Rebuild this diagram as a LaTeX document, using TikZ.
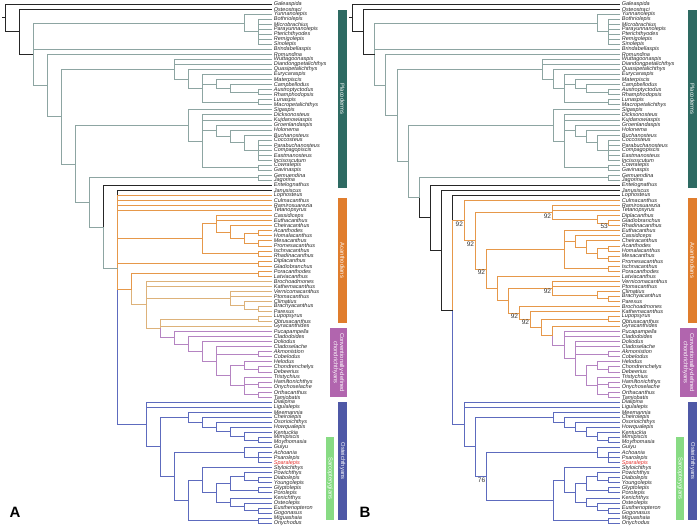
\documentclass[tikz,border=0pt]{standalone}
\usepackage{fontspec}
\setmainfont{Liberation Sans}
\usetikzlibrary{positioning,calc}

\definecolor{outgrp}{HTML}{262626}
\definecolor{placo}{HTML}{8DA5A2}
\definecolor{acan}{HTML}{E6984A}
\definecolor{acanlt}{HTML}{DDB27A}
\definecolor{chond}{HTML}{B584C2}
\definecolor{osteo}{HTML}{5D6BBE}
\definecolor{barplaco}{HTML}{2E6A62}
\definecolor{baracan}{HTML}{E07D2D}
\definecolor{barchond}{HTML}{B165AE}
\definecolor{barosteo}{HTML}{4E58A6}
\definecolor{barsarc}{HTML}{88DB84}
\definecolor{newtaxon}{HTML}{E5322D}

% internal node of the tree: name, x, first child, last child
\newcommand{\clade}[4]{%
  \path let \p1=($(#3)!.5!(#4)$) in coordinate (#1) at (#2pt,\y1);}
% internal node at a given height: name, x, y
\newcommand{\cladeat}[3]{\coordinate (#1) at (#2,#3);}
% branches from a node to its children
\newcommand{\kids}[3]{\foreach \c in {#3} \draw[#1] (#2) |- (\c);}

\newcommand{\taxaA}{Galeaspida,Osteostraci,Yunnanolepis,Bothriolepis,Microbrachius,Parayunnanolepis,Pterichthyodes,Remigolepis,Sinolepis,Brindabellaspis,Romundina,Wuttagoonaspis,Diandongpetalichthys,Quasipetalichthys,Eurycaraspis,Materpiscis,Campbellodus,Austroptyctodus,Rhamphodopsis,Lunaspis,Macropetalichthys,Sigaspis,Dicksonosteus,Kujdanowiaspis,Groenlandaspis,Holonema,Buchanosteus,Coccosteus,Parabuchanosteus,Compagopiscis,Eastmanosteus,Incisoscutum,Cowralepis,Gavinaspis,Gemuendina,Jagorina,Entelognathus,Janusiscus,Lophosteus,Culmacanthus,Ramirosuarezia,Tetanopsyrus,Cassidiceps,Euthacanthus,Cheiracanthus,Acanthodes,Homalacanthus,Mesacanthus,Promesacanthus,Ischnacanthus,Rhadinacanthus,Diplacanthus,Gladiobranchus,Poracanthodes,Latviacanthus,Brochoadmones,Kathemacanthus,Vernicomacanthus,Ptomacanthus,Climatius,Brachyacanthus,Parexus,Lupopsyrus,Obtusacanthus,Gyracanthides,Pucapampella,Cladodoides,Doliodus,Cladoselache,Akmonistion,Cobelodus,Helodus,Chondrenchelys,Debeerius,Tristychius,Hamiltonichthys,Onychoselache,Orthacanthus,Tamiobatis,Dialipina,Ligulalepis,Meemannia,Cheirolepis,Osorioichthys,Howqualepis,Kentuckia,Mimipiscis,Moythomasia,Guiyu,Achoania,Psarolepis,\textcolor{newtaxon}{Sparalepis},Styloichthys,Powichthys,Diabolepis,Youngolepis,Glyptolepis,Porolepis,Kenichthys,Osteolepis,Eusthenopteron,Gogonasus,Miguashaia,Onychodus}
\newcommand{\taxaB}{Galeaspida,Osteostraci,Yunnanolepis,Bothriolepis,Microbrachius,Parayunnanolepis,Pterichthyodes,Remigolepis,Sinolepis,Brindabellaspis,Romundina,Wuttagoonaspis,Diandongpetalichthys,Quasipetalichthys,Eurycaraspis,Materpiscis,Campbellodus,Austroptyctodus,Rhamphodopsis,Lunaspis,Macropetalichthys,Sigaspis,Dicksonosteus,Kujdanowiaspis,Groenlandaspis,Holonema,Buchanosteus,Coccosteus,Parabuchanosteus,Compagopiscis,Eastmanosteus,Incisoscutum,Cowralepis,Gavinaspis,Gemuendina,Jagorina,Entelognathus,Janusiscus,Lophosteus,Culmacanthus,Ramirosuarezia,Tetanopsyrus,Diplacanthus,Gladiobranchus,Rhadinacanthus,Euthacanthus,Cassidiceps,Cheiracanthus,Acanthodes,Homalacanthus,Mesacanthus,Promesacanthus,Ischnacanthus,Poracanthodes,Latviacanthus,Vernicomacanthus,Ptomacanthus,Climatius,Brachyacanthus,Parexus,Brochoadmones,Kathemacanthus,Lupopsyrus,Obtusacanthus,Gyracanthides,Pucapampella,Cladodoides,Doliodus,Cladoselache,Akmonistion,Cobelodus,Helodus,Chondrenchelys,Debeerius,Tristychius,Hamiltonichthys,Onychoselache,Orthacanthus,Tamiobatis,Dialipina,Ligulalepis,Meemannia,Cheirolepis,Osorioichthys,Howqualepis,Kentuckia,Mimipiscis,Moythomasia,Guiyu,Achoania,Psarolepis,\textcolor{newtaxon}{Sparalepis},Styloichthys,Powichthys,Diabolepis,Youngolepis,Glyptolepis,Porolepis,Kenichthys,Osteolepis,Eusthenopteron,Gogonasus,Miguashaia,Onychodus}

\begin{document}
\begin{tikzpicture}[x=1pt,y=-1pt,line width=.8pt,
  taxon/.style={anchor=west,inner xsep=1.5pt,inner ysep=0pt,text=black!85,
    font=\fontsize{5.5}{5.5}\selectfont\itshape},
  og/.style={outgrp},pl/.style={placo},ac/.style={acan},al/.style={acanlt},
  ch/.style={chond},os/.style={osteo},
  bar/.style={rotate=-90,text=white,inner sep=0pt,align=center,
    font=\fontsize{5.8}{6.2}\selectfont},
  support/.style={anchor=north east,font=\fontsize{6.5}{6.5}\selectfont,
    text=black!80,inner sep=.6pt},
  panel/.style={font=\fontsize{15}{15}\selectfont\bfseries}]

\useasboundingbox (0,0) rectangle (700,528);

% ---------------- A: leaves
\foreach \t [count=\i] in \taxaA
  \node[taxon] (a\i) at (272,{4+(\i-1)*5.04}) {\t};

% placoderms
\clade{aBo}{258}{a4}{a9}       \kids{pl}{aBo}{a4,a5,a6,a7,a8,a9}
\clade{aAn}{244}{a3}{aBo}      \kids{pl}{aAn}{a3,aBo}
\clade{aAR}{258}{a18}{a19}     \kids{pl}{aAR}{a18,a19}
\clade{aCa}{230}{a17}{aAR}     \kids{pl}{aCa}{a17,aAR}
\clade{aPt}{216}{a16}{aCa}     \kids{pl}{aPt}{a16,aCa}
\clade{aLM}{258}{a20}{a21}     \kids{pl}{aLM}{a20,a21}
\clade{aE}{202}{a15}{aLM}      \kids{pl}{aE}{a15,aPt,aLM}
\clade{aQ}{188}{a14}{aE}       \kids{pl}{aQ}{a14,aE}
\clade{aW}{174}{a12}{aQ}       \kids{pl}{aW}{a12,a13,aQ}
\clade{aBu}{258}{a28}{a32}     \kids{pl}{aBu}{a28,a29,a30,a31,a32}
\clade{aBu2}{244}{a27}{aBu}    \kids{pl}{aBu2}{a27,aBu}
\clade{aH}{230}{a26}{aBu2}     \kids{pl}{aH}{a26,aBu2}
\clade{aK}{216}{a25}{aH}       \kids{pl}{aK}{a25,aH}
\clade{aCG}{258}{a33}{a34}     \kids{pl}{aCG}{a33,a34}
\clade{aD}{202}{a23}{aCG}      \kids{pl}{aD}{a23,a24,aK,aCG}
\clade{aAr}{188}{a22}{aD}      \kids{pl}{aAr}{a22,aD}
\clade{aGJ}{258}{a35}{a36}     \kids{pl}{aGJ}{a35,a36}

% acanthodians
\clade{aAH}{258}{a46}{a47}     \kids{ac}{aAH}{a46,a47}
\clade{aMP}{258}{a48}{a49}     \kids{ac}{aMP}{a48,a49}
\clade{aAd3}{244}{aAH}{aMP}    \kids{ac}{aAd3}{aAH,aMP}
\clade{aAd2}{230}{a45}{aAd3}   \kids{ac}{aAd2}{a45,aAd3}
\clade{aAd}{216}{a43}{aAd2}    \kids{ac}{aAd}{a43,a44,aAd2}
\clade{aIR}{258}{a50}{a51}     \kids{ac}{aIR}{a50,a51}
\clade{aAc}{202}{aAd}{aIR}     \kids{ac}{aAc}{aAd,aIR}
\clade{aDG}{258}{a52}{a53}     \kids{ac}{aDG}{a52,a53}
\clade{aPL}{258}{a54}{a55}     \kids{ac}{aPL}{a54,a55}
\clade{aBP}{258}{a61}{a62}     \kids{al}{aBP}{a61,a62}
\clade{aCB}{244}{a60}{aBP}     \kids{al}{aCB}{a60,aBP}
\clade{aCl}{230}{a58}{aCB}     \kids{al}{aCl}{a58,a59,aCB}
\clade{aLO}{258}{a63}{a64}     \kids{al}{aLO}{a63,a64}

% chondrichthyans
\clade{aCD}{258}{a73}{a74}     \kids{ch}{aCD}{a73,a74}
\clade{aHol}{244}{a72}{aCD}    \kids{ch}{aHol}{a72,aCD}
\clade{aHO}{258}{a76}{a77}     \kids{ch}{aHO}{a76,a77}
\clade{aOT}{258}{a78}{a79}     \kids{ch}{aOT}{a78,a79}
\clade{aEla}{244}{a75}{aOT}    \kids{ch}{aEla}{a75,aHO,aOT}
\clade{aCrC}{230}{aHol}{aEla}  \kids{ch}{aCrC}{aHol,aEla}
\clade{aAC}{258}{a70}{a71}     \kids{ch}{aAC}{a70,a71}
\clade{aCd4}{216}{a69}{aCrC}   \kids{ch}{aCd4}{a69,aAC,aCrC}
\clade{aCd3}{202}{a68}{aCd4}   \kids{ch}{aCd3}{a68,aCd4}
\clade{aCd2}{188}{a67}{aCd3}   \kids{ch}{aCd2}{a67,aCd3}
\clade{aCd}{174}{a66}{aCd2}    \kids{ch}{aCd}{a66,aCd2}
\clade{aCh3}{160}{aLO}{aCd}    \kids{ch}{aCh3}{aCd} \kids{al}{aCh3}{aLO,a65}
\clade{aCh2}{146}{a56}{aCh3}   \kids{al}{aCh2}{a56,a57,aCl,aCh3}
\clade{aCh}{131.5}{aPL}{aCh2}  \kids{al}{aCh}{aCh2} \kids{ac}{aCh}{aPL}

% osteichthyans
\clade{aMM}{258}{a87}{a88}     \kids{os}{aMM}{a87,a88}
\clade{aA4}{244}{a86}{aMM}     \kids{os}{aA4}{a86,aMM}
\clade{aA3}{230}{a85}{aA4}     \kids{os}{aA3}{a85,aA4}
\clade{aA2}{216}{a84}{aA3}     \kids{os}{aA2}{a84,aA3}
\clade{aA1}{202}{a83}{aA2}     \kids{os}{aA1}{a83,aA2}
\clade{aAct}{188}{a82}{aA1}    \kids{os}{aAct}{a82,aA1}
\clade{aPs}{258}{a90}{a92}     \kids{os}{aPs}{a90,a91,a92}
\clade{aGu}{244}{a89}{aPs}     \kids{os}{aGu}{a89,aPs}
\clade{aDY}{258}{a95}{a96}     \kids{os}{aDY}{a95,a96}
\clade{aPD}{244}{a94}{aDY}     \kids{os}{aPD}{a94,aDY}
\clade{aGP}{258}{a97}{a98}     \kids{os}{aGP}{a97,a98}
\clade{aDi}{230}{aPD}{aGP}     \kids{os}{aDi}{aPD,aGP}
\clade{aEG}{258}{a101}{a102}   \kids{os}{aEG}{a101,a102}
\clade{aTe2}{244}{a100}{aEG}   \kids{os}{aTe2}{a100,aEG}
\clade{aTe}{230}{a99}{aTe2}    \kids{os}{aTe}{a99,aTe2}
\clade{aRh}{216}{aDi}{aTe}     \kids{os}{aRh}{aDi,aTe}
\clade{aSt}{202}{a93}{aRh}     \kids{os}{aSt}{a93,aRh}
\clade{aMO}{258}{a103}{a104}   \kids{os}{aMO}{a103,a104}
\clade{aCS}{188}{aSt}{aMO}     \kids{os}{aCS}{aSt,aMO}
\clade{aSar}{174}{aGu}{aCS}    \kids{os}{aSar}{aGu,aCS}
\clade{aCrO}{160}{aAct}{aSar}  \kids{os}{aCrO}{aAct,aSar}
\clade{aOst}{146}{a80}{aCrO}   \kids{os}{aOst}{a80,a81,aCrO}

% backbone
\cladeat{aCr}{117.5}{268.6}
\kids{og}{aCr}{a38} \kids{os}{aCr}{aOst}
\kids{ac}{aCr}{a39,a40,a41,a42,aAc,aDG} \kids{ac}{aCr}{aCh}
\clade{aZ}{103.4}{a37}{aCr}    \kids{og}{aZ}{a37} \kids{pl}{aZ}{aCr}
\clade{aY}{89.3}{aGJ}{aZ}      \kids{pl}{aY}{aGJ,aZ}
\clade{aX}{75.3}{aAr}{aY}      \kids{pl}{aX}{aAr,aY}
\clade{aP}{61.3}{aW}{aX}       \kids{pl}{aP}{aW,aX}
\clade{aR2}{47.2}{a11}{aP}     \kids{pl}{aR2}{a11,aP}
\clade{aG}{33.2}{aAn}{aR2}     \kids{pl}{aG}{aAn,a10,aR2}
\clade{aO}{19.1}{a2}{aG}       \kids{og}{aO}{a2,aG}
\clade{aR}{5}{a1}{aO}          \kids{og}{aR}{a1,aO}
\draw[og] (aR) -- ++(-3,0);

% bars
\node[bar,fill=barplaco,minimum width=178pt,minimum height=9pt] (plA) at (342.5,99) {Placoderms};
\node[bar,fill=baracan,minimum width=125pt,minimum height=9pt] (acA) at (342.5,260.5) {Acanthodians};
\node[bar,fill=barchond,minimum width=69pt,minimum height=17pt] (chA) at (338.5,362.5) {Conventionally-defined\\chondrichthyans};
\node[bar,fill=barosteo,minimum width=118pt,minimum height=9pt] (osA) at (342.5,461) {Osteichthyans};
\node[bar,fill=barsarc,minimum width=83pt,minimum height=8pt] (saA) at (330,478.5) {Sarcopterygians};
\node[panel] (lblA) at (15,512) {A};

% ---------------- B: leaves
\foreach \t [count=\i] in \taxaB
  \node[taxon] (b\i) at (620,{4+(\i-1)*5.04}) {\t};

% placoderms
\clade{bBo}{608.8}{b4}{b9}     \kids{pl}{bBo}{b4,b5,b6,b7,b8,b9}
\clade{bAn}{597.7}{b3}{bBo}    \kids{pl}{bAn}{b3,bBo}
\clade{bAR}{608.8}{b18}{b19}   \kids{pl}{bAR}{b18,b19}
\clade{bCa}{586.5}{b17}{bAR}   \kids{pl}{bCa}{b17,bAR}
\clade{bPt}{575.4}{b16}{bCa}   \kids{pl}{bPt}{b16,bCa}
\clade{bLM}{608.8}{b20}{b21}   \kids{pl}{bLM}{b20,b21}
\clade{bE}{564.2}{b15}{bLM}    \kids{pl}{bE}{b15,bPt,bLM}
\clade{bQ}{553.1}{b14}{bE}     \kids{pl}{bQ}{b14,bE}
\clade{bW}{541.9}{b12}{bQ}     \kids{pl}{bW}{b12,b13,bQ}
\clade{bBu}{608.8}{b28}{b32}   \kids{pl}{bBu}{b28,b29,b30,b31,b32}
\clade{bBu2}{597.7}{b27}{bBu}  \kids{pl}{bBu2}{b27,bBu}
\clade{bH}{586.5}{b26}{bBu2}   \kids{pl}{bH}{b26,bBu2}
\clade{bK}{575.4}{b25}{bH}     \kids{pl}{bK}{b25,bH}
\clade{bCG}{608.8}{b33}{b34}   \kids{pl}{bCG}{b33,b34}
\clade{bD}{564.2}{b23}{bCG}    \kids{pl}{bD}{b23,b24,bK,bCG}
\clade{bAr}{553.1}{b22}{bD}    \kids{pl}{bAr}{b22,bD}
\clade{bGJ}{608.8}{b35}{b36}   \kids{pl}{bGJ}{b35,b36}

% acanthodians
\clade{bGR}{608.8}{b44}{b45}   \kids{ac}{bGR}{b44,b45}
\clade{bDGR}{597.7}{b43}{bGR}  \kids{ac}{bDGR}{b43,bGR}
\clade{bDp}{552}{b41}{bDGR}    \kids{ac}{bDp}{b41,b42,bDGR}
\clade{bAH}{608.8}{b49}{b50}   \kids{ac}{bAH}{b49,b50}
\clade{bMP}{608.8}{b51}{b52}   \kids{ac}{bMP}{b51,b52}
\clade{bAd3}{597.7}{bAH}{bMP}  \kids{ac}{bAd3}{bAH,bMP}
\clade{bAd2}{586.5}{b48}{bAd3} \kids{ac}{bAd2}{b48,bAd3}
\clade{bAd}{575.4}{b47}{bAd2}  \kids{ac}{bAd}{b47,bAd2}
\clade{bIP}{608.8}{b53}{b54}   \kids{ac}{bIP}{b53,b54}
\clade{bAI}{564.2}{b46}{bIP}   \kids{ac}{bAI}{b46,bAd,bIP}
\clade{bBP}{608.8}{b59}{b60}   \kids{ac}{bBP}{b59,b60}
\clade{bCB}{597.7}{b58}{bBP}   \kids{ac}{bCB}{b58,bBP}
\clade{bCl}{552}{b56}{bCB}     \kids{ac}{bCl}{b56,b57,bCB}
\clade{bLO}{608.8}{b63}{b64}   \kids{ac}{bLO}{b63,b64}

% chondrichthyans
\clade{bCD}{608.8}{b73}{b74}   \kids{ch}{bCD}{b73,b74}
\clade{bHol}{597.7}{b72}{bCD}  \kids{ch}{bHol}{b72,bCD}
\clade{bHO}{608.8}{b76}{b77}   \kids{ch}{bHO}{b76,b77}
\clade{bOT}{608.8}{b78}{b79}   \kids{ch}{bOT}{b78,b79}
\clade{bEla}{597.7}{b75}{bOT}  \kids{ch}{bEla}{b75,bHO,bOT}
\clade{bCrC}{586.5}{bHol}{bEla} \kids{ch}{bCrC}{bHol,bEla}
\clade{bAC}{608.8}{b70}{b71}   \kids{ch}{bAC}{b70,b71}
\clade{bCd2}{575.4}{b68}{bCrC} \kids{ch}{bCd2}{b68,b69,bAC,bCrC}
\clade{bCd}{564.2}{b66}{bCd2}  \kids{ch}{bCd}{b66,b67,bCd2}

% acanthodian backbone
\clade{bK4}{552}{b65}{bCd}     \kids{ch}{bK4}{bCd} \kids{ac}{bK4}{b65}
\clade{bK3}{541.5}{bLO}{bK4}   \kids{ac}{bK3}{bLO,bK4}
\clade{bK2}{530}{b62}{bK3}     \kids{ac}{bK2}{b62,bK3}
\clade{bK1}{519}{b61}{bK2}     \kids{ac}{bK1}{b61,bK2}
\clade{bA5}{508}{bCl}{bK1}     \kids{ac}{bA5}{bCl,bK1}
\clade{bA4}{497}{b55}{bA5}     \kids{ac}{bA4}{b55,bA5}
\clade{bA3}{486}{bAI}{bA4}     \kids{ac}{bA3}{bAI,bA4}
\clade{bA2}{475}{bDp}{bA3}     \kids{ac}{bA2}{bDp,bA3}
\clade{bAc}{463.9}{b40}{bA2}   \kids{ac}{bAc}{b40,bA2}

% osteichthyans
\clade{bMM}{608.8}{b87}{b88}   \kids{os}{bMM}{b87,b88}
\clade{bOa4}{597.7}{b86}{bMM}  \kids{os}{bOa4}{b86,bMM}
\clade{bOa3}{586.5}{b85}{bOa4} \kids{os}{bOa3}{b85,bOa4}
\clade{bOa2}{575.4}{b84}{bOa3} \kids{os}{bOa2}{b84,bOa3}
\clade{bOa1}{564.2}{b83}{bOa2} \kids{os}{bOa1}{b83,bOa2}
\clade{bAct}{553.1}{b82}{bOa1} \kids{os}{bAct}{b82,bOa1}
\clade{bPs}{608.8}{b90}{b92}   \kids{os}{bPs}{b90,b91,b92}
\clade{bGu}{597.7}{b89}{bPs}   \kids{os}{bGu}{b89,bPs}
\clade{bDY}{608.8}{b95}{b96}   \kids{os}{bDY}{b95,b96}
\clade{bPD}{597.7}{b94}{bDY}   \kids{os}{bPD}{b94,bDY}
\clade{bGP}{608.8}{b97}{b98}   \kids{os}{bGP}{b97,b98}
\clade{bDi}{586.5}{bPD}{bGP}   \kids{os}{bDi}{bPD,bGP}
\clade{bEG}{608.8}{b101}{b102} \kids{os}{bEG}{b101,b102}
\clade{bTe2}{597.7}{b100}{bEG} \kids{os}{bTe2}{b100,bEG}
\clade{bTe}{586.5}{b99}{bTe2}  \kids{os}{bTe}{b99,bTe2}
\clade{bRh}{575.4}{bDi}{bTe}   \kids{os}{bRh}{bDi,bTe}
\clade{bSt}{564.2}{b93}{bRh}   \kids{os}{bSt}{b93,bRh}
\clade{bMO}{608.8}{b103}{b104} \kids{os}{bMO}{b103,b104}
\clade{bCS}{553.1}{bSt}{bMO}   \kids{os}{bCS}{bSt,bMO}
\clade{bSar}{486.2}{bGu}{bCS}  \kids{os}{bSar}{bGu,bCS}
\clade{bCrO}{475}{bAct}{bSar}  \kids{os}{bCrO}{bAct,bSar}
\clade{bOst}{463.9}{b80}{bCrO} \kids{os}{bOst}{b80,b81,bCrO}

% backbone
\clade{bJa}{452.7}{b39}{bOst}
\kids{og}{bJa}{b39} \kids{os}{bJa}{bOst} \kids{ac}{bJa}{bAc}
\clade{bEn}{441.6}{b38}{bJa}   \kids{og}{bEn}{b38,bJa}
\clade{bZ}{430.4}{b37}{bEn}    \kids{og}{bZ}{b37,bEn}
\clade{bY}{419.3}{bGJ}{bZ}     \kids{pl}{bY}{bGJ} \kids{og}{bY}{bZ}
\clade{bX}{408.1}{bAr}{bY}     \kids{pl}{bX}{bAr,bY}
\clade{bP}{397}{bW}{bX}        \kids{pl}{bP}{bW,bX}
\clade{bR2}{385.8}{b11}{bP}    \kids{pl}{bR2}{b11,bP}
\clade{bG}{374.7}{bAn}{bR2}    \kids{pl}{bG}{bAn,b10,bR2}
\clade{bO}{363.5}{b2}{bG}      \kids{og}{bO}{b2,bG}
\clade{bR}{352.4}{b1}{bO}      \kids{og}{bR}{b1,bO}
\draw[og] (bR) -- ++(-3,0);

% support values
\node[support] (sv1) at (bAc) {92};
\node[support] (sv2) at (bDp) {92};
\node[support] (sv3) at (bGR) {53};
\node[support] (sv4) at (bA2) {92};
\node[support] (sv5) at (bA3) {92};
\node[support] (sv6) at (bCl) {92};
\node[support] (sv7) at (bK1) {92};
\node[support] (sv8) at (bK2) {92};
\node[support] (sv9) at (bSar) {76};

% bars
\node[bar,fill=barplaco,minimum width=178pt,minimum height=9pt] (plB) at (692.5,99) {Placoderms};
\node[bar,fill=baracan,minimum width=125pt,minimum height=9pt] (acB) at (692.5,260.5) {Acanthodians};
\node[bar,fill=barchond,minimum width=69pt,minimum height=17pt] (chB) at (688.5,362.5) {Conventionally-defined\\chondrichthyans};
\node[bar,fill=barosteo,minimum width=118pt,minimum height=9pt] (osB) at (692.5,461) {Osteichthyans};
\node[bar,fill=barsarc,minimum width=83pt,minimum height=8pt] (saB) at (680,478.5) {Sarcopterygians};
\node[panel] (lblB) at (365,512) {B};

\end{tikzpicture}
\end{document}
